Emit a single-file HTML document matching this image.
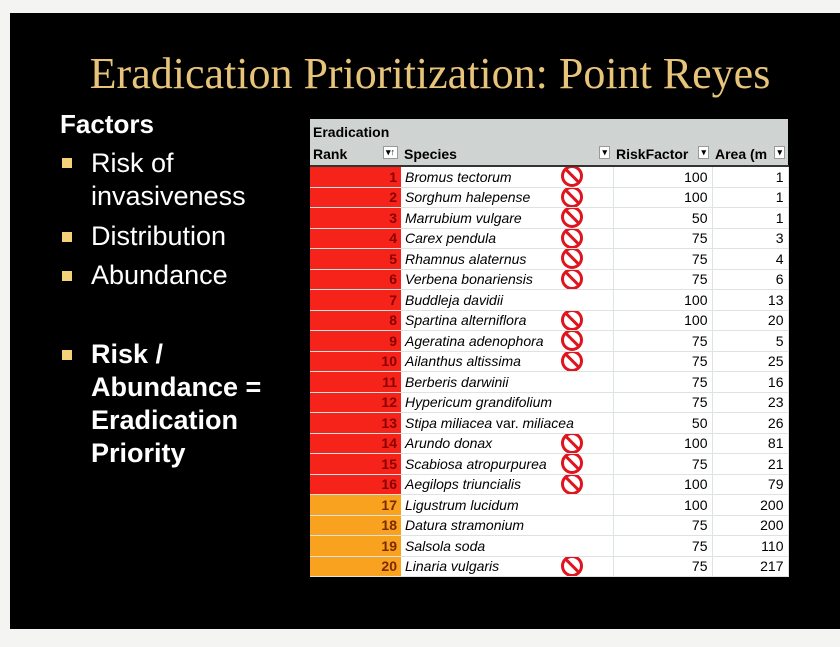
<!DOCTYPE html>
<html><head><style>
body{margin:0;width:840px;height:647px;background:#f4f4f2;position:relative;overflow:hidden;font-family:"Liberation Sans",sans-serif}
#slide{position:absolute;left:10px;top:13px;width:830px;height:616px;background:#000}
.t{position:absolute;color:#fff}
h1{position:absolute;left:0;width:860px;top:48px;margin:0;text-align:center;font:44px "Liberation Serif",serif;color:#e8c47a;font-weight:normal}
.b{position:absolute;left:62px;width:10px;height:10px;background:#f3d27a}
.bt{position:absolute;left:91px;color:#fff;font-size:27px;line-height:33px}
table{position:absolute;left:310px;top:119px;width:478px;border-collapse:collapse;font-family:"Liberation Sans",sans-serif;font-size:14px;table-layout:fixed}
td{height:19.5px;padding:0 4px;border-bottom:1px solid #dde3e0;border-right:1px solid #dde3e0;background:#fff;white-space:nowrap;overflow:hidden}
td.r{text-align:right;font-weight:bold;color:#8a0000;border-right:none}
td.s{font-style:italic;position:relative}
td.n{text-align:right}
th{background:#cfd3d1;text-align:left;font-size:14px;padding:0 3px;height:22px;font-weight:bold}
.no{position:absolute;left:160px;top:-2px;width:16px;height:16px;border:3px solid #e0141e;border-radius:50%;}
.no:after{content:"";position:absolute;left:7px;top:-2px;width:3px;height:20px;background:#e0141e;transform:rotate(-45deg)}
</style></head><body>
<div id="slide"></div>
<h1>Eradication Prioritization: Point Reyes</h1>
<div class="t" style="left:60px;top:109px;font-size:26px;font-weight:bold">Factors</div>
<div class="b" style="top:158px"></div><div class="bt" style="top:147px">Risk of<br>invasiveness</div>
<div class="b" style="top:232px"></div><div class="bt" style="top:220px">Distribution</div>
<div class="b" style="top:271px"></div><div class="bt" style="top:259px">Abundance</div>
<div class="b" style="top:350px"></div><div class="bt" style="top:338px;font-weight:bold;line-height:33px">Risk /<br>Abundance =<br>Eradication<br>Priority</div>
<table>
<colgroup><col style="width:91px"><col style="width:212px"><col style="width:99px"><col style="width:76px"></colgroup>
<tr><th colspan="4" style="height:22px;padding-top:2px">Eradication</th></tr>
<tr><th style="border-bottom:2px solid #333">Rank <span style="float:right;font-size:9px;background:#fff;border:1px solid #999;padding:0 2px">▾↑</span></th><th style="border-bottom:2px solid #333">Species <span style="float:right;font-size:9px;background:#fff;border:1px solid #999;padding:0 2px">▾</span></th><th style="border-bottom:2px solid #333">RiskFactor <span style="float:right;font-size:9px;background:#fff;border:1px solid #999;padding:0 2px">▾</span></th><th style="border-bottom:2px solid #333">Area (m <span style="float:right;font-size:9px;background:#fff;border:1px solid #999;padding:0 2px">▾</span></th></tr>
<tr><td class="r" style="background:#f5231a">1</td><td class="s">Bromus tectorum<i class="no"></i></td><td class="n">100</td><td class="n">1</td></tr>
<tr><td class="r" style="background:#f5231a">2</td><td class="s">Sorghum halepense<i class="no"></i></td><td class="n">100</td><td class="n">1</td></tr>
<tr><td class="r" style="background:#f5231a">3</td><td class="s">Marrubium vulgare<i class="no"></i></td><td class="n">50</td><td class="n">1</td></tr>
<tr><td class="r" style="background:#f5231a">4</td><td class="s">Carex pendula<i class="no"></i></td><td class="n">75</td><td class="n">3</td></tr>
<tr><td class="r" style="background:#f5231a">5</td><td class="s">Rhamnus alaternus<i class="no"></i></td><td class="n">75</td><td class="n">4</td></tr>
<tr><td class="r" style="background:#f5231a">6</td><td class="s">Verbena bonariensis<i class="no"></i></td><td class="n">75</td><td class="n">6</td></tr>
<tr><td class="r" style="background:#f5231a">7</td><td class="s">Buddleja davidii</td><td class="n">100</td><td class="n">13</td></tr>
<tr><td class="r" style="background:#f5231a">8</td><td class="s">Spartina alterniflora<i class="no"></i></td><td class="n">100</td><td class="n">20</td></tr>
<tr><td class="r" style="background:#f5231a">9</td><td class="s">Ageratina adenophora<i class="no"></i></td><td class="n">75</td><td class="n">5</td></tr>
<tr><td class="r" style="background:#f5231a">10</td><td class="s">Ailanthus altissima<i class="no"></i></td><td class="n">75</td><td class="n">25</td></tr>
<tr><td class="r" style="background:#f5231a">11</td><td class="s">Berberis darwinii</td><td class="n">75</td><td class="n">16</td></tr>
<tr><td class="r" style="background:#f5231a">12</td><td class="s">Hypericum grandifolium</td><td class="n">75</td><td class="n">23</td></tr>
<tr><td class="r" style="background:#f5231a">13</td><td class="s">Stipa miliacea <span style="font-style:normal">var.</span> miliacea</td><td class="n">50</td><td class="n">26</td></tr>
<tr><td class="r" style="background:#f5231a">14</td><td class="s">Arundo donax<i class="no"></i></td><td class="n">100</td><td class="n">81</td></tr>
<tr><td class="r" style="background:#f5231a">15</td><td class="s">Scabiosa atropurpurea<i class="no"></i></td><td class="n">75</td><td class="n">21</td></tr>
<tr><td class="r" style="background:#f5231a">16</td><td class="s">Aegilops triuncialis<i class="no"></i></td><td class="n">100</td><td class="n">79</td></tr>
<tr><td class="r" style="background:#f8a21f;color:#7a2a00">17</td><td class="s">Ligustrum lucidum</td><td class="n">100</td><td class="n">200</td></tr>
<tr><td class="r" style="background:#f8a21f;color:#7a2a00">18</td><td class="s">Datura stramonium</td><td class="n">75</td><td class="n">200</td></tr>
<tr><td class="r" style="background:#f8a21f;color:#7a2a00">19</td><td class="s">Salsola soda</td><td class="n">75</td><td class="n">110</td></tr>
<tr><td class="r" style="background:#f8a21f;color:#7a2a00">20</td><td class="s">Linaria vulgaris<i class="no"></i></td><td class="n">75</td><td class="n">217</td></tr>
</table>
</body></html>
